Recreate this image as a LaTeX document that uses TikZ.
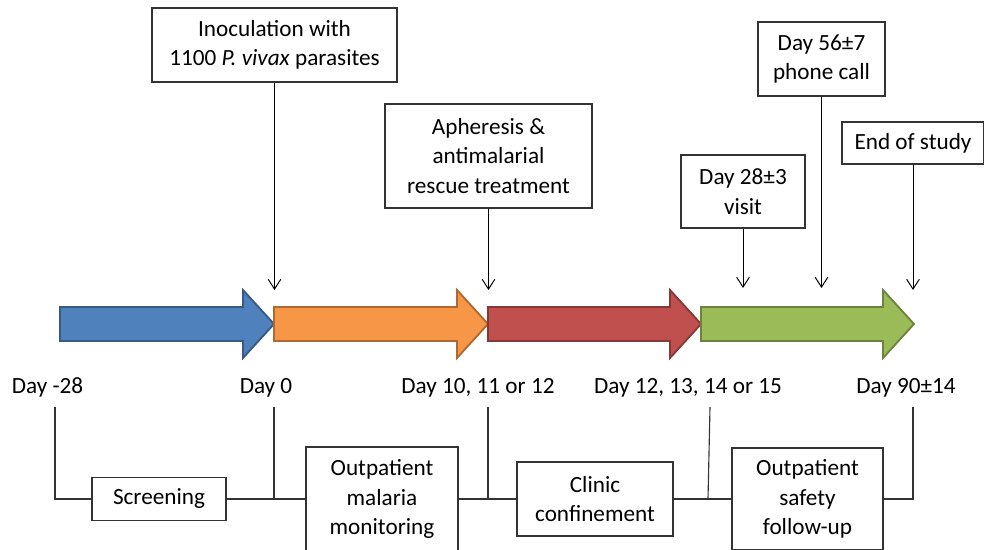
\documentclass[tikz,border=0pt]{standalone}
\usepackage{fontspec}
\setmainfont{Carlito}
\usetikzlibrary{arrows.meta}
\definecolor{phblue}{HTML}{4F81BD}
\definecolor{phorange}{HTML}{F79646}
\definecolor{phred}{HTML}{C0504D}
\definecolor{phgreen}{HTML}{9BBB59}

\begin{document}
\begin{tikzpicture}[
        x=0.025cm, y=-0.025cm,
        box/.style={draw=black!80, line width=0.8pt, fill=white, align=center, inner sep=0pt, font=\fontsize{16.5}{21}\selectfont},
        day/.style={anchor=base, inner sep=0pt, font=\fontsize{16.5}{21}\selectfont},
        arr/.style={-{Straight Barb[length=7pt, width=9pt]}, line width=0.7pt},
        link/.style={line width=0.8pt, draw=black!80}
    ]
        \clip (0,0) rectangle (984,550);
        \foreach \s/\t/\c in {60/274/phblue, 274/488/phorange, 488/701/phred, 701/914/phgreen}
            \filldraw[fill=\c, draw=\c!70!black, line width=1.3pt] (\s,307) -- (\t-31,307) -- (\t-31,290) -- (\t,324) -- (\t-31,358) -- (\t-31,341) -- (\s,341) -- cycle;

        \node[box, minimum width=6.125cm, minimum height=1.85cm] (inoc) at (274.5,45) {Inoculation with\\1100 \textit{P. vivax} parasites};
        \node[box, minimum width=5.175cm, minimum height=2.6cm] (aph) at (488.5,156) {Apheresis \&\\antimalarial\\rescue treatment};
        \node[box, minimum width=3.1cm, minimum height=1.825cm] (visit) at (743,191.5) {Day 28±3\\visit};
        \node[box, minimum width=3.175cm, minimum height=1.85cm] (phone) at (821.5,59) {Day 56±7\\phone call};
        \node[box, minimum width=3.55cm, minimum height=1.05cm] (endst) at (913,143) {End of study};
        \coordinate (m0) at (274.5,290);
        \coordinate (m1) at (488.5,290);
        \coordinate (m2) at (743,288);
        \coordinate (m3) at (821.5,288);
        \coordinate (m4) at (913,290);
        \draw[arr] (inoc) -- (m0);
        \draw[arr] (aph) -- (m1);
        \draw[arr] (visit) -- (m2);
        \draw[arr] (phone) -- (m3);
        \draw[arr] (endst) -- (m4);

        \node[day] (dm28) at (47.5,393) {Day -28};
        \node[day] (d0) at (266,393) {Day 0};
        \node[day] (d10) at (478,393) {Day 10, 11 or 12};
        \node[day] (d12) at (688,393) {Day 12, 13, 14 or 15};
        \node[day] (d90) at (906,393) {Day 90±14};

        \node[box, minimum width=3.35cm, minimum height=1.075cm] (screen) at (159,499) {Screening};
        \node[box, minimum width=3.8cm, minimum height=2.6cm] (opmal) at (382,499) {Outpatient\\malaria\\monitoring};
        \node[box, minimum width=3.9cm, minimum height=1.85cm] (clinic) at (595,499) {Clinic\\confinement};
        \node[box, minimum width=3.775cm, minimum height=2.55cm] (opsafe) at (807.5,499) {Outpatient\\safety\\follow-up};

        \coordinate (t0) at (55,407);
        \coordinate (t1) at (274,407);
        \coordinate (t2) at (488,407);
        \coordinate (t3) at (710,407);
        \coordinate (t4) at (913,407);
        \draw[link] (t0) |- (screen);
        \draw[link] (screen) -- (opmal);
        \draw[link] (t1) -- (t1 |- screen);
        \draw[link] (opmal) -- (clinic);
        \draw[link] (t2) -- (t2 |- clinic);
        \draw[link] (clinic) -- (opsafe);
        \draw[link] (t3) -- (708,499);
        \draw[link] (t4) |- (opsafe);
    \end{tikzpicture}
\end{document}
